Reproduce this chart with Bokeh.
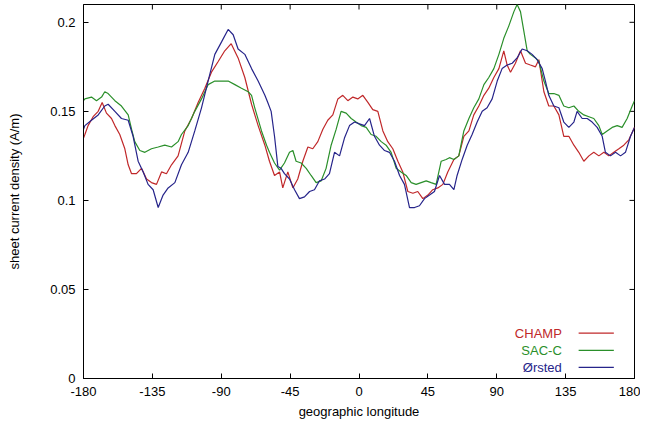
from bokeh.plotting import figure
from bokeh.models import Range1d, FixedTicker, CustomJSTickFormatter
from bokeh.core.properties import value
from bokeh.embed import file_html
from bokeh.resources import INLINE

# ---- data ----
champ_lon = [-180, -179.1, -177.0, -173.7, -170.4, -167.8, -165.0, -161.7, -159.5, -156.3, -153.0,
             -150.8, -148.6, -145.4, -142.1, -138.8, -135.6, -132.3, -129.0, -125.8, -122.5, -118.2,
             -113.8, -109.4, -105.1, -100.7, -96.4, -92.0, -87.7, -83.5, -79.0, -74.6, -70.2, -65.9,
             -61.5, -58.5, -55.2, -51.9, -49.8, -46.5, -43.2, -40.0, -36.7, -33.4, -30.2, -26.9,
             -23.6, -20.4, -17.1, -13.8, -10.6, -7.3, -4.0, -0.8, 2.5, 5.8, 9.0, 12.3, 15.6, 18.8,
             22.1, 25.4, 28.6, 31.9, 35.2, 38.4, 41.7, 45.0, 48.2, 51.5, 54.8, 58.0, 62.0, 65.2, 68.5,
             71.8, 75.0, 78.3, 81.6, 84.8, 88.1, 91.4, 94.6, 96.8, 99.0, 102.2, 105.5, 108.8, 112.0,
             115.3, 117.5, 120.8, 124.0, 127.3, 130.6, 133.8, 137.1, 140.4, 143.6, 146.9, 150.2,
             153.4, 156.7, 160.0, 163.2, 166.5, 169.8, 173.0, 176.3, 180]
champ_val = [0.135, 0.137, 0.142, 0.147, 0.150, 0.155, 0.149, 0.146, 0.142, 0.137, 0.129,
             0.120, 0.115, 0.115, 0.118, 0.112, 0.110, 0.109, 0.116, 0.115, 0.120, 0.125,
             0.139, 0.146, 0.155, 0.163, 0.172, 0.178, 0.184, 0.188, 0.180, 0.169, 0.154, 0.142,
             0.131, 0.122, 0.114, 0.116, 0.107, 0.116, 0.107, 0.112, 0.122, 0.130, 0.129, 0.133,
             0.140, 0.145, 0.148, 0.157, 0.159, 0.156, 0.158, 0.157, 0.159, 0.155, 0.151, 0.150, 0.139, 0.133,
             0.129, 0.122, 0.116, 0.105, 0.104, 0.105, 0.101, 0.103, 0.106, 0.107, 0.109, 0.116, 0.123, 0.125, 0.136,
             0.139, 0.148, 0.153, 0.159, 0.163, 0.169, 0.174, 0.184, 0.176, 0.172, 0.177, 0.184, 0.177, 0.176,
             0.175, 0.179, 0.161, 0.153, 0.153, 0.148, 0.136, 0.136, 0.131, 0.127, 0.122, 0.125,
             0.127, 0.125, 0.127, 0.125, 0.127, 0.129, 0.131, 0.134, 0.141]

sacc_lon = [-180, -179.1, -174.8, -171.5, -168.2, -166.1, -163.9, -159.5, -155.2, -150.8, -148.6,
            -146.5, -143.2, -139.9, -135.6, -131.2, -126.9, -122.5, -118.2, -116.0, -111.6, -107.3,
            -102.9, -98.6, -94.2, -89.8, -85.5, -81.1, -76.8, -72.4, -70.2, -68.1, -63.7, -60.4,
            -58.5, -55.2, -51.9, -48.7, -45.4, -43.2, -41.1, -37.8, -34.5, -31.3, -28.0, -24.7,
            -21.5, -18.2, -14.9, -11.7, -8.4, -5.1, -1.9, 1.4, 4.7, 7.9, 11.2, 14.5, 17.7, 21.0,
            24.3, 27.5, 30.8, 34.1, 37.3, 40.6, 43.9, 47.1, 50.4, 53.7, 56.9, 59.1, 62.0, 65.2,
            68.5, 71.8, 75.0, 78.3, 81.6, 84.8, 88.1, 91.4, 94.6, 97.9, 101.2, 103.3, 105.5, 107.7,
            109.9, 112.0, 115.3, 117.5, 120.8, 124.0, 127.3, 130.6, 133.8, 137.1, 140.4, 143.6,
            146.9, 150.2, 153.4, 156.7, 158.9, 162.1, 165.4, 168.7, 171.9, 175.2, 178.5, 180]
sacc_val = [0.156, 0.157, 0.158, 0.156, 0.158, 0.161, 0.160, 0.156, 0.153, 0.148, 0.140,
            0.133, 0.128, 0.127, 0.129, 0.130, 0.131, 0.130, 0.133, 0.137, 0.142, 0.150,
            0.157, 0.165, 0.167, 0.167, 0.167, 0.165, 0.163, 0.161, 0.159, 0.152, 0.139, 0.131,
            0.127, 0.121, 0.117, 0.121, 0.127, 0.128, 0.122, 0.121, 0.118, 0.114, 0.110, 0.111,
            0.118, 0.131, 0.140, 0.150, 0.149, 0.146, 0.144, 0.142, 0.141, 0.137, 0.136, 0.133, 0.131, 0.127,
            0.118, 0.116, 0.114, 0.110, 0.109, 0.110, 0.111, 0.110, 0.109, 0.122, 0.123, 0.124, 0.123, 0.125,
            0.139, 0.146, 0.152, 0.157, 0.165, 0.169, 0.174, 0.182, 0.191, 0.198, 0.206, 0.210, 0.206, 0.195,
            0.184, 0.182, 0.180, 0.178, 0.167, 0.160, 0.160, 0.159, 0.153, 0.152, 0.153, 0.150,
            0.148, 0.147, 0.146, 0.142, 0.137, 0.139, 0.141, 0.142, 0.141, 0.146, 0.153, 0.156]

orsted_lon = [-180, -179.1, -174.8, -170.4, -166.1, -163.9, -159.5, -155.2, -150.8, -147.6, -144.3,
              -141.0, -137.8, -134.5, -131.2, -128.0, -124.7, -120.3, -116.0, -111.6, -107.3, -102.9,
              -98.6, -94.2, -89.8, -85.5, -82.2, -79.0, -74.6, -70.2, -65.9, -61.5,
              -59.6, -57.4, -55.2, -53.0, -50.9, -48.7, -45.4, -42.1, -38.9, -35.6, -32.3, -29.1,
              -25.8, -22.5, -19.3, -16.0, -12.7, -9.5, -6.2, -2.9, 0.3, 3.6, 6.9, 10.1, 13.4, 16.7,
              19.9, 23.2, 26.5, 29.7, 33.0, 36.3, 39.5, 42.8, 46.1, 49.3, 52.6, 55.9, 59.1,
              62.0, 64.1, 67.4, 70.7, 73.9, 77.2, 80.5, 83.7, 87.0, 90.3, 93.5, 96.8, 100.1, 103.3,
              106.6, 109.9, 113.1, 116.4, 119.7, 121.8, 124.0, 127.3, 130.6, 133.8, 137.1, 140.4,
              142.5, 145.8, 149.1, 152.3, 155.6, 158.9, 161.0, 164.3, 167.6, 170.9, 174.1, 177.4, 180]
orsted_val = [0.140, 0.142, 0.145, 0.148, 0.153, 0.154, 0.150, 0.146, 0.145, 0.136, 0.122,
              0.116, 0.109, 0.106, 0.096, 0.103, 0.107, 0.110, 0.120, 0.127, 0.139, 0.152,
              0.167, 0.182, 0.189, 0.196, 0.193, 0.185, 0.182, 0.174, 0.167, 0.159,
              0.155, 0.150, 0.136, 0.119, 0.118, 0.115, 0.112, 0.106, 0.101, 0.102, 0.105, 0.106,
              0.111, 0.112, 0.115, 0.127, 0.125, 0.135, 0.142, 0.144, 0.143, 0.142, 0.146, 0.136, 0.131, 0.128,
              0.127, 0.122, 0.114, 0.109, 0.096, 0.096, 0.097, 0.101, 0.103, 0.105, 0.114, 0.109, 0.109,
              0.106, 0.114, 0.123, 0.131, 0.137, 0.144, 0.150, 0.152, 0.157, 0.167, 0.174, 0.176, 0.177, 0.180,
              0.185, 0.184, 0.182, 0.179, 0.174, 0.167, 0.159, 0.153, 0.152, 0.144, 0.141, 0.144,
              0.150, 0.146, 0.146, 0.144, 0.141, 0.136, 0.127, 0.125, 0.127, 0.125, 0.127, 0.136, 0.141]

series_names = ["CHAMP", "SAC-C", "\u00d8rsted"]
x_ticks = [-180, -135, -90, -45, 0, 45, 90, 135, 180]
y_ticks = [0, 0.05, 0.1, 0.15, 0.2]
X_MIN, X_MAX = -180, 180
Y_MIN, Y_MAX = 0, 0.21

# ---- style / layout ----
colors = ["#c0282a", "#2a8f2a", "#26248a"]
FONT = "Liberation Sans"
FRAME_W, FRAME_H = 551, 374
TICK_PX = 5

p = figure(frame_width=FRAME_W, frame_height=FRAME_H,
           x_range=Range1d(X_MIN, X_MAX), y_range=Range1d(Y_MIN, Y_MAX),
           output_backend="svg", toolbar_location=None,
           min_border_left=83, min_border_right=6, min_border_top=4, min_border_bottom=40)
p.xgrid.grid_line_color = None
p.ygrid.grid_line_color = None
p.outline_line_color = "black"
p.outline_line_width = 1
p.background_fill_color = "white"
p.border_fill_color = "white"

fmt = CustomJSTickFormatter(code="return tick.toString();")

for ax in p.xaxis:
    ax.ticker = FixedTicker(ticks=x_ticks)
    ax.formatter = fmt
    ax.axis_label = "geographic longitude"
    ax.major_label_standoff = 8
    ax.axis_label_standoff = 5
for ax in p.yaxis:
    ax.ticker = FixedTicker(ticks=y_ticks)
    ax.formatter = fmt
    ax.axis_label = "sheet current density (A/m)"
    ax.major_label_standoff = 8
    ax.axis_label_standoff = 25

for ax in list(p.xaxis) + list(p.yaxis):
    ax.major_tick_in = TICK_PX
    ax.major_tick_out = 0
    ax.minor_tick_in = 0
    ax.minor_tick_out = 0
    ax.axis_line_color = "black"
    ax.major_tick_line_color = "black"
    ax.major_label_text_font = FONT
    ax.major_label_text_font_size = "13px"
    ax.major_label_text_color = "black"
    ax.axis_label_text_font = FONT
    ax.axis_label_text_font_size = "13px"
    ax.axis_label_text_font_style = "normal"
    ax.axis_label_text_color = "black"

# mirrored inward ticks on the top and right edges of the frame
dx = TICK_PX * (X_MAX - X_MIN) / FRAME_W
dy = TICK_PX * (Y_MAX - Y_MIN) / FRAME_H
p.segment(x0=x_ticks, y0=[Y_MAX] * len(x_ticks), x1=x_ticks, y1=[Y_MAX - dy] * len(x_ticks),
          line_color="black", line_width=1)
p.segment(x0=[X_MAX] * len(y_ticks), y0=y_ticks, x1=[X_MAX - dx] * len(y_ticks), y1=y_ticks,
          line_color="black", line_width=1)

for lon, val, c in [(champ_lon, champ_val, colors[0]), (sacc_lon, sacc_val, colors[1]),
                    (orsted_lon, orsted_val, colors[2])]:
    p.line(lon, val, line_color=c, line_width=1.2)

# gnuplot-style key (text left, sample right) in the lower right
key_text_x = 132.5
key_x0, key_x1 = 143.5, 166.5
key_y = [0.0255, 0.0158, 0.0062]
for name, c, ky in zip(series_names, colors, key_y):
    p.text(x=[key_text_x], y=[ky], text=[name], text_color=c, text_align="right",
           text_baseline="middle", text_font=value(FONT), text_font_size="13px")
    p.segment(x0=[key_x0], y0=[ky], x1=[key_x1], y1=[ky], line_color=c, line_width=1.2)

open("out.html", "w").write(file_html(p, INLINE))
